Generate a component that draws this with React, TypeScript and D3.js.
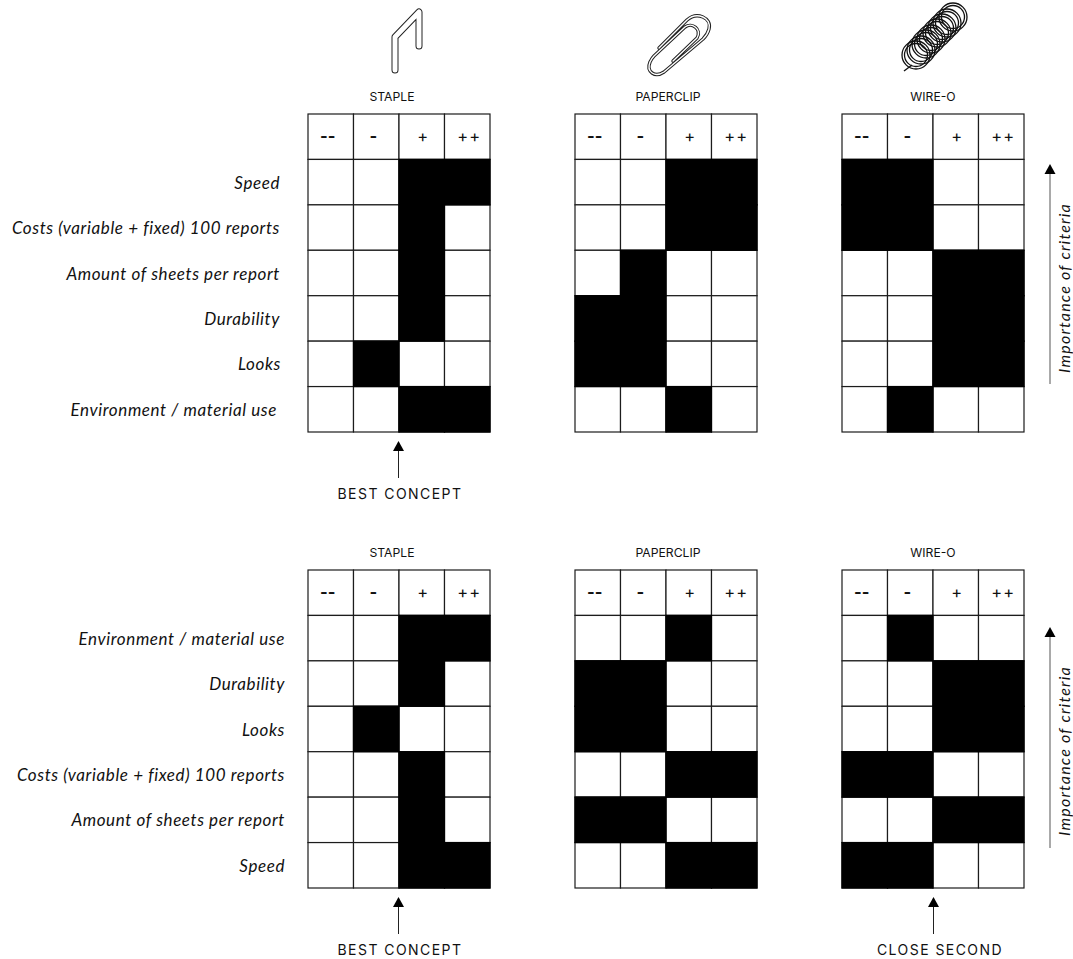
import React from "react";
import * as d3 from "d3";

const scoreLabels = ["--", "-", "+", "++"];
const scoreLabelNudge = [-3, -3, 1, 2];
const scoreLabelSpacing = [0, 0, 0, 1];
const scoreLabelWeight = [700, 700, 400, 400];
const products = ["STAPLE", "PAPERCLIP", "WIRE-O"];
const productTitleX = [392, 668, 933];
const panelLeft = [308, 575, 842];

const topCriteria = ["Speed", "Costs (variable + fixed) 100 reports", "Amount of sheets per report", "Durability", "Looks", "Environment / material use"];
const topLabelEnd = [280, 280, 280, 280, 281, 277];
const topStaple = [[2, 3], [2], [2], [2], [1], [2, 3]];
const topPaperclip = [[2, 3], [2, 3], [1], [0, 1], [0, 1], [2]];
const topWireO = [[0, 1], [0, 1], [2, 3], [2, 3], [2, 3], [1]];

const bottomCriteria = ["Environment / material use", "Durability", "Looks", "Costs (variable + fixed) 100 reports", "Amount of sheets per report", "Speed"];
const bottomLabelEnd = [285, 285, 285, 285, 285, 285];
const bottomStaple = [[2, 3], [2], [1], [2], [2], [2, 3]];
const bottomPaperclip = [[2], [0, 1], [0, 1], [2, 3], [0, 1], [2, 3]];
const bottomWireO = [[1], [2, 3], [2, 3], [0, 1], [2, 3], [0, 1]];

const ringCentres = [[916, 55], [921, 50], [926, 44], [931, 39], [937, 33], [942, 28], [947, 23], [953, 17]];

const PANEL_W = 182;
const PANEL_H = 318;
const sans = "Inter, Roboto, sans-serif";
const italic = "Lato, 'Open Sans', sans-serif";

const x = d3.scaleBand<number>().domain([0, 1, 2, 3]).range([0, PANEL_W]);
const y = d3.scaleBand<number>().domain(d3.range(7)).range([0, PANEL_H]);

function Panel({ left, top, filled }: { left: number; top: number; filled: number[][] }) {
  return (
    <g transform={`translate(${left},${top})`}>
      {d3.range(7).map((r) =>
        [0, 1, 2, 3].map((c) => (
          <rect key={`${r}-${c}`} x={x(c)} y={y(r)} width={x.bandwidth()} height={y.bandwidth()} fill="#fff" stroke="#1c1c1c" strokeWidth={1.2} />
        ))
      )}
      {filled.map((cols, r) =>
        cols.map((c) => (
          <rect key={`f${r}-${c}`} x={x(c)} y={y(r + 1)} width={x.bandwidth()} height={y.bandwidth()} fill="#000" stroke="#000" strokeWidth={1.2} />
        ))
      )}
      {scoreLabels.map((s, c) => (
        <text key={s} x={(x(c) as number) + x.bandwidth() / 2 + scoreLabelNudge[c]} y={y.bandwidth() / 2 + 5.5} textAnchor="middle" fontFamily={sans} fontSize={16.5} fontWeight={scoreLabelWeight[c]} letterSpacing={scoreLabelSpacing[c]} fill="#111">
          {s}
        </text>
      ))}
    </g>
  );
}

function UpArrow({ ax, y1, y2, colour = "#222" }: { ax: number; y1: number; y2: number; colour?: string }) {
  return (
    <g>
      <line x1={ax} x2={ax} y1={y1} y2={y2 + 8} stroke={colour} strokeWidth={1} />
      <path d={d3.line()([[ax - 5.5, y2 + 10], [ax + 5.5, y2 + 10], [ax, y2]]) + "Z"} fill="#000" />
    </g>
  );
}

function Block({ top, criteria, ends, rows, notes }: { top: number; criteria: string[]; ends: number[]; rows: number[][][]; notes: { ax: number; cx: number; text: string }[] }) {
  const rowY = (r: number) => top + (y(r + 1) as number) + y.bandwidth() / 2;
  return (
    <g>
      {products.map((p, i) => (
        <text key={p} x={productTitleX[i]} y={top - 13} textAnchor="middle" fontFamily={sans} fontSize={12.2} fill="#111">
          {p}
        </text>
      ))}
      {panelLeft.map((l, i) => (
        <Panel key={l} left={l} top={top} filled={rows[i]} />
      ))}
      {criteria.map((c, r) => (
        <text key={c} x={ends[r]} y={rowY(r) + 6.5} textAnchor="end" fontFamily={italic} fontStyle="italic" fontSize={17} letterSpacing={0.6} fill="#111">
          {c}
        </text>
      ))}
      {notes.map((n) => (
        <g key={n.text}>
          <UpArrow ax={n.ax} y1={top + 364} y2={top + 327} />
          <text x={n.cx} y={top + 385} textAnchor="middle" fontFamily={sans} fontSize={14} letterSpacing={1.45} fill="#111">
            {n.text}
          </text>
        </g>
      ))}
    </g>
  );
}

function StapleIcon() {
  const d = "M395 70 L395 37 L419 12 L419 46";
  return (
    <g fill="none" strokeLinecap="round" strokeLinejoin="round">
      <path d={d} stroke="#222" strokeWidth={7} />
      <path d={d} stroke="#fff" strokeWidth={5} />
    </g>
  );
}

function PaperclipIcon() {
  const d = "M659 48 L687 20 C697 11 712 18 709 29 C708 33 706 36 703 39 L664 72 C655 78 646 72 650 62 C651 60 652 58 654 56 L685 27 C692 22 702 29 697 38 L673 61";
  return (
    <g fill="none" strokeLinecap="round" strokeLinejoin="round">
      <path d={d} stroke="#222" strokeWidth={3.4} />
      <path d={d} stroke="#fff" strokeWidth={1.4} />
    </g>
  );
}

function WireIcon() {
  return (
    <g fill="none" stroke="#111">
      {ringCentres.map(([cx, cy], i) => (
        <g key={i}>
          <circle cx={cx} cy={cy} r={14} strokeWidth={1.3} />
          <circle cx={cx} cy={cy} r={11.5} strokeWidth={1.3} />
        </g>
      ))}
      <path d="M904 71 L912 65" strokeWidth={1.4} />
    </g>
  );
}

export default function App() {
  return (
    <svg width={1073} height={959} style={{ position: "absolute", left: 0, top: 0, background: "#fff" }}>
      <StapleIcon />
      <PaperclipIcon />
      <WireIcon />
      <Block top={114} criteria={topCriteria} ends={topLabelEnd} rows={[topStaple, topPaperclip, topWireO]} notes={[{ ax: 398.5, cx: 400, text: "BEST CONCEPT" }]} />
      <Block top={570} criteria={bottomCriteria} ends={bottomLabelEnd} rows={[bottomStaple, bottomPaperclip, bottomWireO]} notes={[{ ax: 398.5, cx: 400, text: "BEST CONCEPT" }, { ax: 933.5, cx: 940, text: "CLOSE SECOND" }]} />
      <UpArrow ax={1050} y1={384} y2={164} colour="#555" />
      <UpArrow ax={1050} y1={848} y2={627} colour="#555" />
      <text transform="translate(1069.5,288) rotate(-90)" textAnchor="middle" fontFamily={italic} fontStyle="italic" fontSize={16} letterSpacing={1.2} fill="#111">Importance of criteria</text>
      <text transform="translate(1069.5,751) rotate(-90)" textAnchor="middle" fontFamily={italic} fontStyle="italic" fontSize={16} letterSpacing={1.2} fill="#111">Importance of criteria</text>
    </svg>
  );
}
